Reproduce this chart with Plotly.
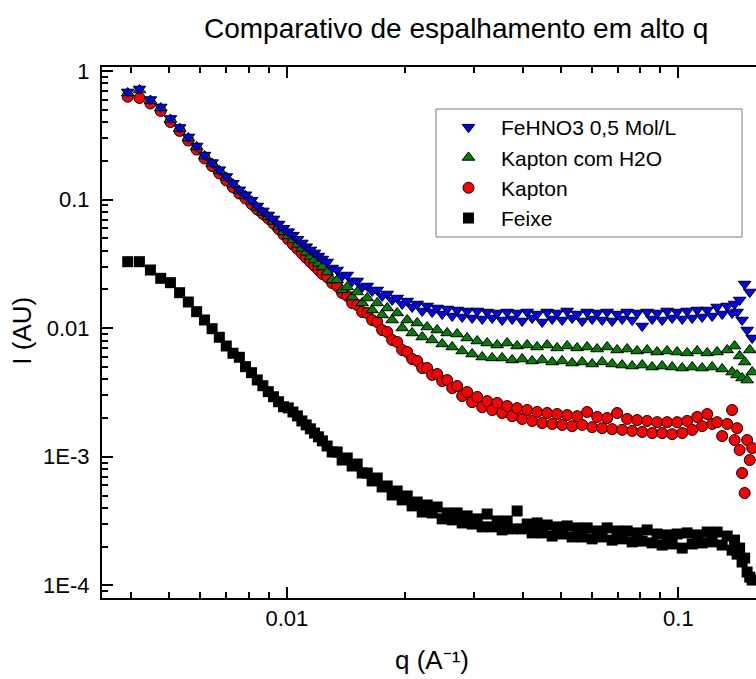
import plotly.graph_objects as go

# ---- data ----
q_low = [0.00392, 0.00420, 0.00448, 0.00476, 0.00504, 0.00532, 0.00560, 0.00588, 0.00616, 0.00644,
         0.00672, 0.00700, 0.00728, 0.00756, 0.00784, 0.00812, 0.00840, 0.00868, 0.00896, 0.00924,
         0.00952, 0.00980, 0.01008, 0.01036, 0.01064, 0.01092, 0.01120, 0.01148, 0.01176, 0.01204,
         0.01232]
q_high = [0.01267, 0.01305, 0.01344, 0.01384, 0.01426, 0.01468, 0.01512, 0.01557, 0.01604, 0.01651,
          0.01701, 0.01751, 0.01804, 0.01857, 0.01913, 0.01970, 0.02029, 0.02089, 0.02152, 0.02216,
          0.02282, 0.02350, 0.02420, 0.02493, 0.02567, 0.02644, 0.02722, 0.02804, 0.02887, 0.02973,
          0.03063, 0.03154, 0.03248, 0.03345, 0.03445, 0.03547, 0.03653, 0.03762, 0.03874, 0.03990,
          0.04110, 0.04232, 0.04358, 0.04488, 0.04622, 0.04760, 0.04902, 0.05048, 0.05199, 0.05354,
          0.05515, 0.05679, 0.05848, 0.06023, 0.06203, 0.06388, 0.06578, 0.06774, 0.06976, 0.07185,
          0.07400, 0.07621, 0.07848, 0.08082, 0.08323, 0.08572, 0.08827, 0.09091, 0.09362, 0.09641,
          0.09930, 0.1023, 0.1053, 0.1085, 0.1117, 0.1150, 0.1185, 0.1220, 0.1256, 0.1294,
          0.1333, 0.1372, 0.1392, 0.1413, 0.1434, 0.1455, 0.1477, 0.1499, 0.1522, 0.1544]

feixe_low = [0.0329, 0.0329, 0.02835, 0.02443, 0.02259, 0.01888, 0.01598, 0.01344, 0.01158, 0.00991,
             0.00850, 0.00727, 0.00638, 0.00594, 0.00502, 0.00451, 0.00396, 0.00357, 0.00321, 0.00293,
             0.00268, 0.00245, 0.00240, 0.00223, 0.00208, 0.00190, 0.00177, 0.00165, 0.00153, 0.00143,
             0.00133]
feixe_high = [1.213e-3, 1.090e-3, 1.090e-3, 9.44e-4, 9.79e-4, 8.48e-4, 8.79e-4, 7.48e-4, 7.48e-4, 6.49e-4,
              6.84e-4, 5.83e-4, 5.93e-4, 5.05e-4, 5.42e-4, 4.62e-4, 4.96e-4, 4.15e-4, 4.45e-4, 3.72e-4,
              4.22e-4, 3.66e-4, 4.07e-4, 3.29e-4, 3.66e-4, 3.23e-4, 3.66e-4, 3.06e-4, 3.47e-4, 3.00e-4,
              3.29e-4, 2.85e-4, 3.59e-4, 2.85e-4, 3.17e-4, 2.70e-4, 3.17e-4, 2.75e-4, 3.79e-4, 2.75e-4,
              3.00e-4, 2.56e-4, 3.06e-4, 2.56e-4, 2.95e-4, 2.42e-4, 2.85e-4, 2.51e-4, 2.90e-4, 2.38e-4,
              2.80e-4, 2.38e-4, 2.80e-4, 2.30e-4, 2.65e-4, 2.38e-4, 2.80e-4, 2.25e-4, 2.65e-4, 2.30e-4,
              2.65e-4, 2.18e-4, 2.56e-4, 2.21e-4, 2.70e-4, 2.14e-4, 2.51e-4, 2.06e-4, 2.47e-4, 2.10e-4,
              2.51e-4, 1.95e-4, 2.56e-4, 2.10e-4, 2.47e-4, 2.14e-4, 2.60e-4, 2.18e-4, 2.60e-4, 2.06e-4,
              2.42e-4, 1.88e-4, 2.25e-4, 1.75e-4, 1.95e-4, 1.52e-4, 1.63e-4, 1.27e-4, 1.16e-4, 1.10e-4]

kapton_low = [0.631, 0.617, 0.559, 0.489, 0.401, 0.342, 0.288, 0.245, 0.209, 0.1825,
              0.160, 0.141, 0.125, 0.1115, 0.102, 0.0924, 0.0838, 0.0773, 0.0713, 0.0652,
              0.0591, 0.0536, 0.0490, 0.0448, 0.0413, 0.0381, 0.0352, 0.0327, 0.0305, 0.0284,
              0.0264]
kapton_high = [0.02501, 0.02246, 0.02129, 0.01878, 0.01780, 0.01570, 0.01515, 0.01336, 0.01313, 0.01158,
               0.01117, 0.00968, 0.00934, 0.00810, 0.00781, 0.00677, 0.00653, 0.00576, 0.00556, 0.00490,
               0.00490, 0.00433, 0.00440, 0.00388, 0.00395, 0.00342, 0.00355, 0.00297, 0.00319, 0.00266,
               0.00292, 0.00243, 0.00271, 0.00231, 0.00262, 0.00219, 0.00248, 0.00207, 0.00239, 0.00197,
               0.00231, 0.00190, 0.00223, 0.00183, 0.00219, 0.00180, 0.00215, 0.00177, 0.00211, 0.00173,
               0.00207, 0.00177, 0.00223, 0.00170, 0.00204, 0.00167, 0.00200, 0.00164, 0.00219, 0.00162,
               0.00197, 0.00159, 0.00193, 0.00156, 0.00190, 0.00153, 0.00186, 0.00153, 0.00186, 0.00150,
               0.00186, 0.00153, 0.00190, 0.00162, 0.00204, 0.00173, 0.00215, 0.00180, 0.00186, 0.00145,
               0.00180, 0.00231, 0.00135, 0.00167, 0.00113, 0.000748, 0.000523, 0.00135, 0.000944, 0.00117]

h2o_low = [0.675, 0.712, 0.590, 0.516, 0.420, 0.357, 0.301, 0.257, 0.218, 0.191,
           0.168, 0.149, 0.132, 0.117, 0.107, 0.0972, 0.0868, 0.0794, 0.0732, 0.0676,
           0.0612, 0.0560, 0.0521, 0.0485, 0.0448, 0.0417, 0.0388, 0.0361, 0.0339, 0.0319,
           0.0299]
h2o_high = [0.02735, 0.02370, 0.02370, 0.01982, 0.02091, 0.01748, 0.01912, 0.01570, 0.01717, 0.01385,
            0.01570, 0.01267, 0.01436, 0.01158, 0.01313, 0.01004, 0.01158, 0.00918, 0.01098, 0.00854,
            0.01022, 0.00810, 0.00968, 0.00754, 0.00918, 0.00714, 0.00901, 0.00665, 0.00839, 0.00630,
            0.00795, 0.00597, 0.00767, 0.00587, 0.00740, 0.00587, 0.00767, 0.00566, 0.00727, 0.00576,
            0.00740, 0.00556, 0.00714, 0.00566, 0.00740, 0.00546, 0.00702, 0.00556, 0.00727, 0.00536,
            0.00702, 0.00546, 0.00714, 0.00527, 0.00689, 0.00546, 0.00714, 0.00527, 0.00677, 0.00517,
            0.00689, 0.00508, 0.00665, 0.00517, 0.00677, 0.00499, 0.00653, 0.00508, 0.00665, 0.00499,
            0.00653, 0.00490, 0.00642, 0.00499, 0.00665, 0.00490, 0.00642, 0.00499, 0.00653, 0.00482,
            0.00677, 0.00456, 0.00727, 0.00433, 0.00608, 0.00410, 0.00546, 0.00395, 0.00677, 0.00456]

fe_low = [0.687, 0.725, 0.600, 0.525, 0.427, 0.364, 0.307, 0.261, 0.222, 0.194,
          0.171, 0.151, 0.134, 0.119, 0.109, 0.0989, 0.0892, 0.0817, 0.0759, 0.0707,
          0.0646, 0.0599, 0.0563, 0.0529, 0.0491, 0.0460, 0.0430, 0.0406, 0.0385, 0.0364,
          0.0345]
fe_high = [0.03271, 0.02938, 0.02835, 0.02546, 0.02592, 0.02328, 0.02328, 0.02091, 0.02129, 0.01946,
           0.01982, 0.01780, 0.01845, 0.01657, 0.01717, 0.01542, 0.01627, 0.01462, 0.01542, 0.01361,
           0.01488, 0.01336, 0.01436, 0.01289, 0.01410, 0.01244, 0.01385, 0.01222, 0.01361, 0.01200,
           0.01361, 0.01179, 0.01336, 0.01200, 0.01313, 0.01158, 0.01336, 0.01179, 0.01313, 0.01138,
           0.01336, 0.01200, 0.01289, 0.01117, 0.01336, 0.01179, 0.01313, 0.01158, 0.01361, 0.01200,
           0.01289, 0.01138, 0.01336, 0.01179, 0.01313, 0.01158, 0.01336, 0.01138, 0.01289, 0.01179,
           0.01336, 0.01158, 0.01313, 0.01040, 0.01336, 0.01179, 0.01313, 0.01158, 0.01361, 0.01200,
           0.01336, 0.01179, 0.01361, 0.01200, 0.01385, 0.01222, 0.01385, 0.01244, 0.01462, 0.01289,
           0.01488, 0.01313, 0.01542, 0.01336, 0.01657, 0.01158, 0.02206, 0.00968, 0.01912, 0.00839]

q = q_low + q_high
series = [
    ("Feixe", feixe_low + feixe_high, "square", "#000000", 0, 11),
    ("Kapton", kapton_low + kapton_high, "circle", "#FF0000", 1, 11),
    ("Kapton com H2O", h2o_low + h2o_high, "triangle-up", "#008000", 1, 11),
    ("FeHNO3 0,5 Mol/L", fe_low + fe_high, "triangle-down", "#0000FF", 1, 11),
]

x_major = [0.01, 0.1]
x_major_text = ["0.01", "0.1"]
y_major = [1e-4, 1e-3, 1e-2, 1e-1, 1]
y_major_text = ["1E-4", "1E-3", "0.01", "0.1", "1"]
x_minor = [m * d for d in (0.001, 0.01) for m in range(2, 10) if 0.0034 < m * d < 0.158]
y_minor = [m * d for d in (1e-5, 1e-4, 1e-3, 1e-2, 1e-1) for m in range(2, 10) if 8.2e-5 < m * d < 1.0]

FONT = "Liberation Sans, Arial, sans-serif"

fig = go.Figure()
for name, vals, sym, col, lw, sz in series:
    fig.add_trace(go.Scatter(
        x=q, y=vals, mode="markers", name=name,
        marker=dict(symbol=sym, size=sz, color=col,
                    line=dict(color="#000000", width=lw)),
    ))

axis_common = dict(
    type="log", showline=True, linecolor="black", linewidth=2,
    ticks="inside", ticklen=11, tickwidth=1.5, tickcolor="black",
    tickmode="array", showgrid=False, zeroline=False,
    tickfont=dict(family=FONT, size=22, color="black"),
)
fig.update_xaxes(**axis_common, range=[-2.4724, -0.8016], mirror="ticks",
                 tickvals=x_major, ticktext=x_major_text,
                 minor=dict(tickmode="array", tickvals=x_minor, ticks="inside",
                            ticklen=6, tickwidth=1.5, tickcolor="black", showgrid=False))
fig.update_yaxes(**axis_common, range=[-4.098, 0.031], mirror=False,
                 tickvals=y_major, ticktext=y_major_text, ticklabelstandoff=6,
                 minor=dict(tickmode="array", tickvals=y_minor, ticks="inside",
                            ticklen=6, tickwidth=1.5, tickcolor="black", showgrid=False))

fig.update_layout(
    width=756, height=679,
    margin=dict(l=102, r=0, t=67, b=81),
    plot_bgcolor="white", paper_bgcolor="white",
    font=dict(family=FONT, color="black"),
    showlegend=True,
    legend=dict(x=0.5107, y=0.9247, xanchor="left", yanchor="top",
                traceorder="reversed", font=dict(family=FONT, size=21, color="black"),
                borderwidth=0, bgcolor="rgba(0,0,0,0)", itemwidth=55),
    shapes=[
        dict(type="rect", xref="paper", yref="paper", x0=0.5107, x1=0.9786, y0=0.6798, y1=0.9209,
             line=dict(color="#7a7a7a", width=1), fillcolor="white", layer="below"),
    ],
    annotations=[
        dict(text="Comparativo de espalhamento em alto q", xref="paper", yref="paper",
             x=0.5413, y=1.0734, xanchor="center", yanchor="middle", showarrow=False,
             font=dict(family=FONT, size=28, color="black")),
        dict(text="I (AU)", xref="paper", yref="paper", x=-0.1228, y=0.5028,
             xanchor="center", yanchor="middle", textangle=-90, showarrow=False,
             font=dict(family=FONT, size=26, color="black")),
        dict(text="q (A\u207b\u00b9)", xref="paper", yref="paper", x=0.5046, y=-0.1168,
             xanchor="center", yanchor="middle", showarrow=False,
             font=dict(family=FONT, size=26, color="black")),
    ],
)

fig.write_html("out.html")
